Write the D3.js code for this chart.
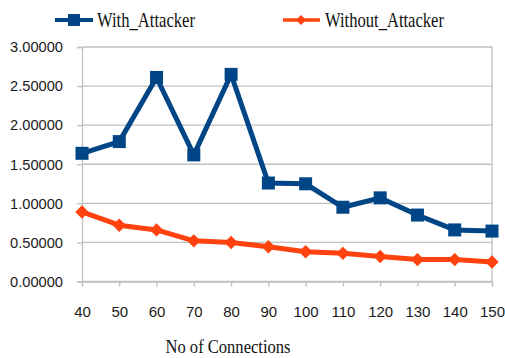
<!DOCTYPE html>
<html><head><meta charset="utf-8">
<script src="https://cdn.jsdelivr.net/npm/d3@7/dist/d3.min.js"></script>
<style>body{margin:0;background:#fff}svg{display:block}</style>
</head><body>
<svg id="c" width="505" height="358"></svg>
<script>
const categories = [40,50,60,70,80,90,100,110,120,130,140,150];
const withAttacker = [1.64,1.79,2.61,1.62,2.65,1.26,1.25,0.95,1.07,0.85,0.66,0.645];
const withoutAttacker = [0.89,0.72,0.66,0.52,0.50,0.445,0.38,0.36,0.32,0.28,0.28,0.25];
const yTicks = [0,0.5,1,1.5,2,2.5,3];
const seriesNames = ["With_Attacker","Without_Attacker"];

const svg = d3.select("#c");
const L=82, R=492, T=47, B=281.5;
const x = d3.scalePoint().domain(categories).range([L,R]);
const y = d3.scaleLinear().domain([0,3]).range([B,T]);

svg.append("g").selectAll("line").data(yTicks).join("line")
  .attr("x1",L).attr("x2",R).attr("y1",d=>y(d)).attr("y2",d=>y(d))
  .attr("stroke","#c0c0c0").attr("stroke-width",1.3);
svg.append("line").attr("x1",R).attr("x2",R).attr("y1",T).attr("y2",B)
  .attr("stroke","#c0c0c0").attr("stroke-width",1.3);

const ya = svg.append("g").attr("transform",`translate(${L},0)`)
  .call(d3.axisLeft(y).tickValues(yTicks).tickSize(5).tickPadding(14).tickFormat(d3.format(".5f")));
ya.select(".domain").attr("stroke","#c0c0c0").attr("stroke-width",1.3);
ya.selectAll(".tick line").attr("stroke","#c0c0c0").attr("stroke-width",1.3);
ya.selectAll("text").attr("font-family","Liberation Sans, Arial, sans-serif").attr("font-size",15)
  .attr("fill","#1a1a1a").attr("textLength",53).attr("lengthAdjust","spacingAndGlyphs");

const xa = svg.append("g").attr("transform",`translate(0,${B})`)
  .call(d3.axisBottom(x).tickSize(5).tickPadding(20));
xa.select(".domain").attr("stroke","#c0c0c0").attr("stroke-width",1.3);
xa.selectAll(".tick line").attr("stroke","#c0c0c0").attr("stroke-width",1.3);
xa.selectAll("text").attr("font-family","Liberation Sans, Arial, sans-serif").attr("font-size",15).attr("fill","#1a1a1a");

svg.append("text").attr("x",228).attr("y",353).attr("text-anchor","middle")
  .attr("font-family","'Liberation Serif', 'Times New Roman', serif").attr("font-size",18)
  .attr("textLength",125).attr("lengthAdjust","spacingAndGlyphs").attr("fill","#111")
  .text("No of Connections");

const blue="#004586", orange="#ff420e";
const line = d3.line().x((d,i)=>x(categories[i])).y(d=>y(d));

svg.append("path").datum(withoutAttacker).attr("d",line).attr("fill","none")
  .attr("stroke",orange).attr("stroke-width",5).attr("stroke-linejoin","round");
const diamond = d3.symbol().type(d3.symbolSquare).size(90);
svg.append("g").selectAll("path").data(withoutAttacker).join("path")
  .attr("d",diamond).attr("transform",(d,i)=>`translate(${x(categories[i])},${y(d)}) rotate(45)`).attr("fill",orange);

svg.append("path").datum(withAttacker).attr("d",line).attr("fill","none")
  .attr("stroke",blue).attr("stroke-width",5).attr("stroke-linejoin","miter");
svg.append("g").selectAll("rect").data(withAttacker).join("rect")
  .attr("x",(d,i)=>x(categories[i])-6.5).attr("y",d=>y(d)-6.5).attr("width",13).attr("height",13).attr("fill",blue);

const lg = svg.append("g");
lg.append("line").attr("x1",55).attr("x2",93).attr("y1",20).attr("y2",20).attr("stroke",blue).attr("stroke-width",4);
lg.append("rect").attr("x",68).attr("y",14).attr("width",12).attr("height",12).attr("fill",blue);
lg.append("text").attr("x",97).attr("y",27).attr("font-family","'Liberation Serif', 'Times New Roman', serif")
  .attr("font-size",21).attr("textLength",98).attr("lengthAdjust","spacingAndGlyphs").attr("fill","#111").text(seriesNames[0]);
lg.append("line").attr("x1",283).attr("x2",320).attr("y1",20).attr("y2",20).attr("stroke",orange).attr("stroke-width",3.5);
lg.append("path").attr("d",d3.symbol().type(d3.symbolSquare).size(50)).attr("transform","translate(301,20) rotate(45)").attr("fill",orange);
lg.append("text").attr("x",325).attr("y",27).attr("font-family","'Liberation Serif', 'Times New Roman', serif")
  .attr("font-size",21).attr("textLength",119).attr("lengthAdjust","spacingAndGlyphs").attr("fill","#111").text(seriesNames[1]);
</script>
</body></html>
